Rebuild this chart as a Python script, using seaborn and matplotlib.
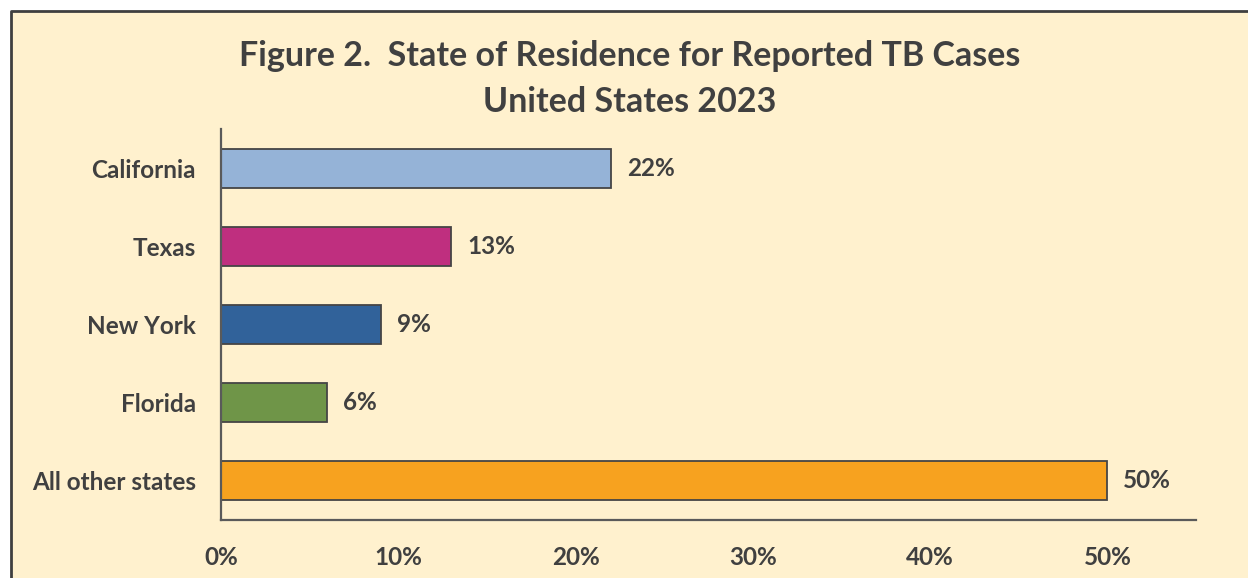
import matplotlib
matplotlib.use("Agg")
import matplotlib.pyplot as plt
import seaborn as sns
import pandas as pd
from matplotlib.patches import Rectangle
from matplotlib.lines import Line2D

states = ["California", "Texas", "New York", "Florida", "All other states"]
percents = [22, 13, 9, 6, 50]
bar_colors = ["#95B3D7", "#BF2F7F", "#31629A", "#6F9548", "#F7A21F"]
xticks = [0, 10, 20, 30, 40, 50]
xtick_labels = ["0%", "10%", "20%", "30%", "40%", "50%"]

bg = "#FFF1CE"
txt = "#404040"

sns.set_style("white")
plt.rcParams["font.family"] = ["Lato", "DejaVu Sans"]
plt.rcParams["font.weight"] = "bold"

df = pd.DataFrame({"State": states, "Percent": percents})

fig = plt.figure(figsize=(12.48, 5.78), dpi=100)
fig.patch.set_facecolor("white")
# yellow panel, framed only on top and left (rest is cut off)
x0, y0 = 11 / 1248, 1 - 11 / 578
fig.patches.append(Rectangle((x0, 0), 1 - x0, y0, transform=fig.transFigure,
                             facecolor=bg, edgecolor="none", zorder=-5))
fig.lines.append(Line2D([x0, x0, 1], [0, y0, y0], transform=fig.transFigure,
                        color="#3F3F3F", linewidth=2, zorder=-4))

ax = fig.add_axes([221 / 1248, 1 - 520 / 578, (1196 - 221) / 1248, (520 - 129) / 578])
ax.set_facecolor("none")
ax.set_zorder(2)

sns.barplot(data=df, x="Percent", y="State", hue="State", palette=bar_colors,
            legend=False, width=0.5, edgecolor="#454545", linewidth=1.3,
            saturation=1, orient="h", ax=ax)

for c in ax.containers:
    ax.bar_label(c, labels=[f"{v:.0f}%" for v in c.datavalues], padding=11.5,
                 fontsize=17.5, fontweight="bold", color=txt)

ax.set_xlim(0, 55)
ax.set_ylim(4.5, -0.5)
ax.set_xticks(xticks)
ax.set_xticklabels(xtick_labels)
ax.tick_params(axis="both", length=0, labelsize=17.5, labelcolor=txt)
ax.tick_params(axis="x", pad=19)
ax.tick_params(axis="y", pad=18)
for lab in ax.get_xticklabels() + ax.get_yticklabels():
    lab.set_fontweight("bold")
ax.set_xlabel("")
ax.set_ylabel("")

sns.despine(ax=ax)
for s in ["left", "bottom"]:
    ax.spines[s].set_color("#5A5A5A")
    ax.spines[s].set_linewidth(1.6)

fig.text(630 / 1248, 1 - 56 / 578, "Figure 2.  State of Residence for Reported TB Cases",
         ha="center", va="center", fontsize=24.5, fontweight="bold", color=txt)
fig.text(630 / 1248, 1 - 102 / 578, "United States 2023",
         ha="center", va="center", fontsize=24.5, fontweight="bold", color=txt)

fig.savefig("out.png", dpi=100)
